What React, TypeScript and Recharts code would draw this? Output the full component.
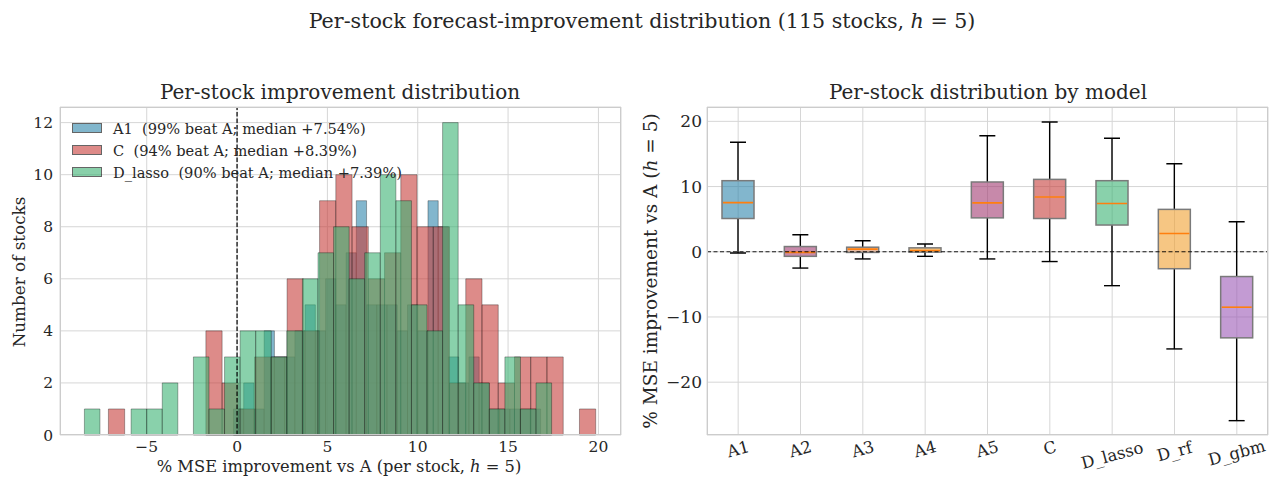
import React from 'react';
import {
  ComposedChart, XAxis, YAxis, CartesianGrid, ReferenceArea, ReferenceLine, Scatter, Bar,
} from 'recharts';

// histogram series (30 bins each, numpy-style edges between lo and hi)
const histBins = 30;
const seriesNames = ['A1', 'C', 'D_lasso'];
const seriesBeat = [99, 94, 90];
const seriesMedian = [7.54, 8.39, 7.39];
const seriesLo = [-0.2, -7.12, -8.45];
const seriesHi = [16.8, 19.85, 17.41];
const a1Counts = [1, 2, 1, 4, 3, 3, 4, 5, 4, 6, 5, 7, 9, 5, 5, 5, 4, 5, 4, 9, 8, 3, 2, 3, 2, 1, 1, 1, 1, 1];
const cCounts = [1, 0, 0, 0, 0, 0, 4, 2, 1, 3, 3, 6, 4, 9, 10, 8, 6, 7, 10, 8, 8, 2, 6, 5, 2, 3, 3, 3, 0, 1];
const dLassoCounts = [1, 0, 0, 1, 1, 2, 0, 3, 1, 3, 4, 4, 3, 4, 6, 7, 8, 6, 7, 10, 9, 5, 4, 12, 5, 2, 1, 3, 1, 2];
const histTicksX = [-5, 0, 5, 10, 15, 20];
const histTicksY = [0, 2, 4, 6, 8, 10, 12];

// boxplot summary per model
const models = ['A1', 'A2', 'A3', 'A4', 'A5', 'C', 'D_lasso', 'D_rf', 'D_gbm'];
const whiskerLo = [-0.2, -2.5, -1.1, -0.7, -1.1, -1.5, -5.2, -14.9, -25.9];
const q1 = [5.1, -0.7, -0.1, -0.05, 5.2, 5.1, 4.1, -2.6, -13.2];
const medians = [7.54, -0.1, 0.4, 0.2, 7.5, 8.39, 7.39, 2.8, -8.5];
const q3 = [10.9, 0.8, 0.7, 0.6, 10.7, 11.1, 10.9, 6.5, -3.8];
const whiskerHi = [16.8, 2.6, 1.7, 1.2, 17.8, 19.9, 17.4, 13.5, 4.6];
const boxTicksY = [-20, -10, 0, 10, 20];

const seriesColors = ['#2E86AB', '#C73E3A', '#3BB273'];
const modelColors = ['#2E86AB', '#A23B72', '#D98C5F', '#F0A030', '#A23B72', '#C73E3A', '#3BB273', '#F0A030', '#9B59B6'];

const FONT = "'DejaVu Serif', serif";
const INK = '#262626';
const GRID = '#d6d6d6';

const fmt = (v: number) => (v < 0 ? '\u2212' + Math.abs(v) : String(v));

const histSeries = [a1Counts, cCounts, dLassoCounts].map((counts, s) => {
  const lo = seriesLo[s];
  const step = (seriesHi[s] - lo) / histBins;
  return counts.map((c, i) => ({ x1: lo + step * i, x2: lo + step * (i + 1), count: c }));
});

const histPoints = histSeries[2].map((b) => ({ x: (b.x1 + b.x2) / 2, y: b.count }));

const boxData = models.map((m, i) => ({
  name: m,
  range: [whiskerLo[i], whiskerHi[i]],
  lo: whiskerLo[i],
  hi: whiskerHi[i],
  q1: q1[i],
  med: medians[i],
  q3: q3[i],
}));

const histTick = { fontSize: 15.5, fill: INK, fontFamily: FONT };
const boxTick = { fontSize: 17, fill: INK, fontFamily: FONT };

const BoxShape = (props: any) => {
  const { x, y, width, height, payload, index } = props;
  const top = Math.min(y, y + height);
  const bottom = Math.max(y, y + height);
  const { lo, hi } = payload;
  const py = (v: number) => top + ((hi - v) / (hi - lo)) * (bottom - top);
  const cx = x + width / 2;
  const capW = width / 4;
  const yq1 = py(payload.q1);
  const yq3 = py(payload.q3);
  const ym = py(payload.med);
  return (
    <g>
      <line x1={cx} x2={cx} y1={top} y2={yq3} stroke="#000" strokeWidth={1.4} />
      <line x1={cx} x2={cx} y1={yq1} y2={bottom} stroke="#000" strokeWidth={1.4} />
      <line x1={cx - capW} x2={cx + capW} y1={top} y2={top} stroke="#000" strokeWidth={1.4} />
      <line x1={cx - capW} x2={cx + capW} y1={bottom} y2={bottom} stroke="#000" strokeWidth={1.4} />
      <rect x={x} y={yq3} width={width} height={Math.max(yq1 - yq3, 0.5)}
        fill={modelColors[index]} fillOpacity={0.6} stroke="#7a7a7a" strokeWidth={1.5} />
      <line x1={x + 1} x2={x + width - 1} y1={ym} y2={ym} stroke="#ff7f0e" strokeWidth={1.6} />
    </g>
  );
};

const ModelTick = (props: any) => {
  const { x, y, payload } = props;
  const label = String(payload.value);
  const w = label.length * 9.6;
  const a = (15 * Math.PI) / 180;
  const bh = w * Math.sin(a) + 16 * Math.cos(a);
  const cy = y + 4 + bh / 2;
  return (
    <text x={x} y={cy} textAnchor="middle" dominantBaseline="central"
      transform={`rotate(-15, ${x}, ${cy})`} fontSize={16.5} fill={INK} fontFamily={FONT}>
      {label}
    </text>
  );
};

const H = () => <span style={{ fontStyle: 'italic' }}>h</span>;

const label = (text: React.ReactNode, cx: number, cy: number, size: number, rotate = 0) => (
  <div style={{
    position: 'absolute', left: cx, top: cy, transform: `translate(-50%, -50%) rotate(${rotate}deg)`,
    whiteSpace: 'pre', fontFamily: FONT, fontSize: size, color: INK, lineHeight: 1,
  }}>{text}</div>
);

const frame = (left: number, top: number, w: number, h: number) => (
  <div style={{
    position: 'absolute', left, top, width: w, height: h, boxSizing: 'border-box',
    border: '1.3px solid #cccccc', pointerEvents: 'none',
  }} />
);

export default function App() {
  return (
    <div style={{ position: 'absolute', left: 0, top: 0, width: 1274, height: 479, background: '#fff', overflow: 'hidden' }}>
      {label(<>Per-stock forecast-improvement distribution (115 stocks, <H /> = 5)</>, 642, 21, 20.6)}
      {label('Per-stock improvement distribution', 340, 92, 20)}
      {label('Per-stock distribution by model', 988, 92, 20)}

      <div style={{ position: 'absolute', left: 0, top: 0 }}>
        <ComposedChart width={640} height={479} margin={{ top: 107, right: 19, bottom: 14, left: 20 }}>
          <CartesianGrid stroke={GRID} strokeWidth={1} />
          <XAxis type="number" dataKey="x" domain={[-9.8, 21.25]} ticks={histTicksX} tickFormatter={fmt}
            allowDataOverflow axisLine={false} tickLine={false} tickSize={0} tickMargin={6} height={30}
            tick={histTick} interval={0} />
          <YAxis type="number" dataKey="y" domain={[0, 12.6]} ticks={histTicksY} tickFormatter={fmt}
            allowDataOverflow axisLine={false} tickLine={false} tickSize={0} tickMargin={7} width={40}
            tick={histTick} interval={0} />
          {histSeries.map((bins, s) =>
            bins.filter((b) => b.count > 0).map((b, i) => (
              <ReferenceArea key={`${s}-${i}`} x1={b.x1} x2={b.x2} y1={0} y2={b.count}
                fill={seriesColors[s]} fillOpacity={0.6} stroke="#000" strokeOpacity={0.4}
                strokeWidth={0.8} ifOverflow="visible" />
            )),
          )}
          <Scatter data={histPoints} dataKey="y" shape={() => <g />} isAnimationActive={false} />
          <ReferenceLine x={0} stroke="#000" strokeWidth={1.2} strokeDasharray="4.5 2" />
        </ComposedChart>
      </div>
      {frame(60, 107, 561, 328)}

      <div style={{ position: 'absolute', left: 68, top: 117 }}>
        {seriesNames.map((n, i) => (
          <div key={n} style={{ display: 'flex', alignItems: 'center', height: 22 }}>
            <div style={{
              width: 30, height: 10, marginLeft: 4, marginRight: 11, boxSizing: 'border-box',
              background: seriesColors[i], opacity: 0.6, border: '1px solid #000',
            }} />
            <span style={{ fontFamily: FONT, fontSize: 14.6, color: INK, whiteSpace: 'pre' }}>
              {`${n}  (${seriesBeat[i]}% beat A; median +${seriesMedian[i].toFixed(2)}%)`}
            </span>
          </div>
        ))}
      </div>

      <div style={{ position: 'absolute', left: 640, top: 0 }}>
        <ComposedChart width={634} height={479} data={boxData}
          margin={{ top: 107, right: 6, bottom: 0, left: 12 }}>
          <CartesianGrid stroke={GRID} strokeWidth={1} />
          <XAxis dataKey="name" type="category" axisLine={false} tickLine={false} tickSize={0} tickMargin={0}
            height={44} tick={<ModelTick />} interval={0} />
          <YAxis type="number" domain={[-28.1, 22.2]} ticks={boxTicksY} tickFormatter={fmt} allowDataOverflow
            axisLine={false} tickLine={false} tickSize={0} tickMargin={5} width={55} tick={boxTick} interval={0} />
          <Bar dataKey="range" barSize={32} shape={<BoxShape />} isAnimationActive={false} />
          <ReferenceLine y={0} stroke="#000" strokeWidth={0.9} strokeDasharray="4 2.5" />
        </ComposedChart>
      </div>
      {frame(707, 107, 561, 328)}

      {label(<>% MSE improvement vs A (per stock, <H /> = 5)</>, 339, 467, 16.3)}
      {label('Number of stocks', 19, 272, 16.8, -90)}
      {label(<>% MSE improvement vs A (<H /> = 5)</>, 651, 271, 18.5, -90)}
    </div>
  );
}
